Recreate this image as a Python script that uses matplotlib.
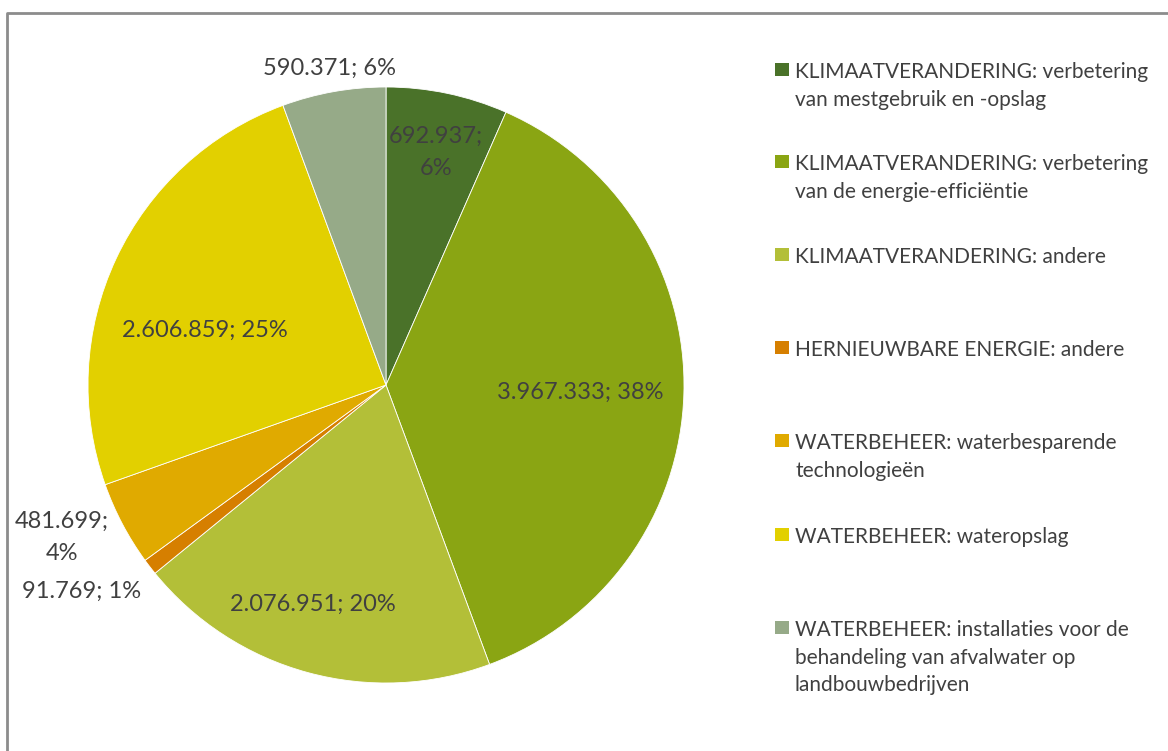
import matplotlib.pyplot as plt
from matplotlib.patches import Rectangle
from matplotlib.lines import Line2D

plt.rcParams['font.family'] = ['Lato', 'DejaVu Sans']

# steunbedragen per maatregel (EUR), met klok mee vanaf boven
categories = [
    "KLIMAATVERANDERING: verbetering\nvan mestgebruik en -opslag",
    "KLIMAATVERANDERING: verbetering\nvan de energie-efficiëntie",
    "KLIMAATVERANDERING: andere",
    "HERNIEUWBARE ENERGIE: andere",
    "WATERBEHEER: waterbesparende\ntechnologieën",
    "WATERBEHEER: wateropslag",
    "WATERBEHEER: installaties voor de\nbehandeling van afvalwater op\nlandbouwbedrijven",
]
values = [692937, 3967333, 2076951, 91769, 481699, 2606859, 590371]
percent_labels = ["6%", "38%", "20%", "1%", "4%", "25%", "6%"]
colors = ["#4A7229", "#8AA513", "#B3BF38", "#D67F00", "#E0AA00", "#E2D000", "#96AA88"]

W, H = 1168, 751
fig = plt.figure(figsize=(W / 100, H / 100), dpi=100)

def fx(px):
    return px / W

def fy(py):
    return 1 - py / H

# pie axes: centre (386, 385), radius 298 px
cx, cy, r = 386, 385, 298
ax = fig.add_axes([fx(cx - r), fy(cy + r), 2 * r / W, 2 * r / H])
wedges, _ = ax.pie(values, colors=colors, startangle=90, counterclock=False,
                   radius=1, wedgeprops=dict(edgecolor='white', linewidth=0.6))
ax.set_xlim(-1, 1)
ax.set_ylim(-1, 1)
ax.set_aspect('equal')
ax.axis('off')

def fmt(v):
    return f"{v:,}".replace(",", ".")

# label positions in pie units, plus whether the text wraps
label_pos = [(0.168, 0.779), (0.651, -0.023), (-0.245, -0.735), (-1.02, -0.691),
             (-1.087, -0.513), (-0.607, 0.185), (-0.191, 1.064)]
wrap = [True, False, False, False, True, False, False]
for v, p, (lx, ly), w in zip(values, percent_labels, label_pos, wrap):
    sep = ";\n" if w else "; "
    ax.text(lx, ly, f"{fmt(v)}{sep}{p}", ha='center', va='center', fontsize=17,
            color='#404040', linespacing=1.66, clip_on=False)

# legend drawn by hand
legend_y = [71, 163, 256, 349, 442, 536, 629]
for label, col, y in zip(categories, colors, legend_y):
    fig.patches.append(Rectangle((fx(775), fy(y + 5)), 14 / W, 13 / H,
                                 transform=fig.transFigure, facecolor=col,
                                 edgecolor='none'))
    fig.text(fx(795), fy(y - 9), label, ha='left', va='top', fontsize=15,
             color='#404040', linespacing=1.48)

# chart frame (left and top edge)
fig.lines.append(Line2D([fx(7), fx(7), 1], [0, fy(12.5), fy(12.5)],
                        transform=fig.transFigure, color='#8C8C8C', linewidth=2))

fig.savefig("out.png", dpi=100)
